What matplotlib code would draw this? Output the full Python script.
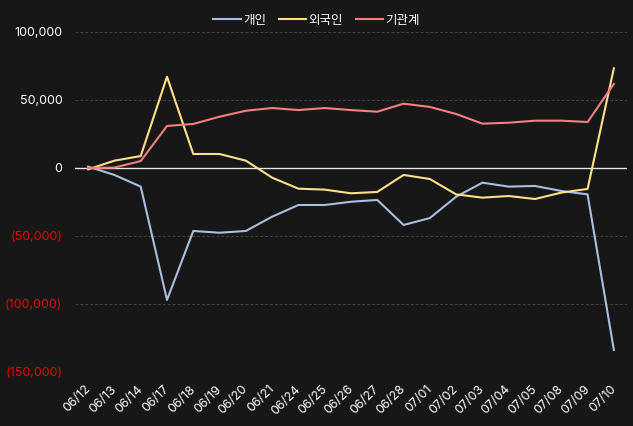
import numpy as np
import matplotlib.pyplot as plt
import matplotlib.transforms as mtrans
from matplotlib.ticker import FuncFormatter

plt.rcParams['font.family'] = ['Inter', 'Noto Sans CJK KR', 'DejaVu Sans']

dates = ['06/12', '06/13', '06/14', '06/17', '06/18', '06/19', '06/20', '06/21',
         '06/24', '06/25', '06/26', '06/27', '06/28', '07/01', '07/02', '07/03',
         '07/04', '07/05', '07/08', '07/09', '07/10']
personal = [1000, -5100, -13700, -97000, -46300, -47600, -46300, -35800, -27200,
            -27200, -24800, -23500, -41900, -36800, -21100, -10800, -13700,
            -13200, -16900, -19400, -133800]
foreign = [-1000, 5400, 8800, 67100, 10300, 10300, 5400, -7100, -15200, -15900,
           -18600, -17600, -5100, -8100, -19400, -21800, -20600, -22800, -18100,
           -15400, 73300]
institution = [0, 300, 5100, 30900, 32400, 37700, 42100, 44100, 42600, 44100,
               42600, 41400, 47300, 44900, 39700, 32600, 33300, 34800, 34800,
               33800, 61800]
series_names = ['개인', '외국인', '기관계']
colors = ['#a9bfe0', '#ffe08a', '#f47f7f']
y_ticks = [100000, 50000, 0, -50000, -100000, -150000]

bg = '#171717'
fig = plt.figure(figsize=(6.33, 4.26), dpi=100, facecolor=bg)
ax = fig.add_axes([75 / 633, 1 - 372 / 426, 552 / 633, 340 / 426])
ax.set_facecolor(bg)

x = np.arange(len(dates))
for vals, name, c in zip([personal, foreign, institution], series_names, colors):
    ax.plot(x, vals, color=c, linewidth=1.5, label=name)

ax.set_xlim(-0.5, len(dates) - 0.5)
ax.set_ylim(-150000, 100000)
ax.set_yticks(y_ticks)
ax.yaxis.set_major_formatter(FuncFormatter(
    lambda v, p: f'({abs(v):,.0f})' if v < 0 else f'{v:,.0f}'))
for t in y_ticks:
    if t != 0:
        ax.axhline(t, color='#444444', linewidth=0.7, linestyle=(0, (3, 2)), zorder=0)
ax.axhline(0, color='#e8e8e8', linewidth=1, zorder=1)

ax.set_xticks(x)
ax.set_xticklabels(dates, rotation=45, ha='right', rotation_mode='anchor')
ax.tick_params(axis='both', length=0, labelsize=9, colors='white')
ax.tick_params(axis='y', pad=9)
ax.tick_params(axis='x', pad=8)
shift = mtrans.ScaledTranslation(-4 / 100, 0, fig.dpi_scale_trans)
for lbl in ax.get_xticklabels():
    lbl.set_transform(lbl.get_transform() + shift)
for lbl, t in zip(ax.get_yticklabels(), y_ticks):
    lbl.set_color('#ee0000' if t < 0 else 'white')

for s in ax.spines.values():
    s.set_visible(False)

leg = fig.legend(loc='upper center', bbox_to_anchor=(0.5, 0.992), ncol=3,
                 frameon=False, fontsize=9, handlelength=2.2, handletextpad=0.2,
                 columnspacing=1.0)
for t in leg.get_texts():
    t.set_color('white')

fig.savefig('out.png', dpi=100, facecolor=bg)
